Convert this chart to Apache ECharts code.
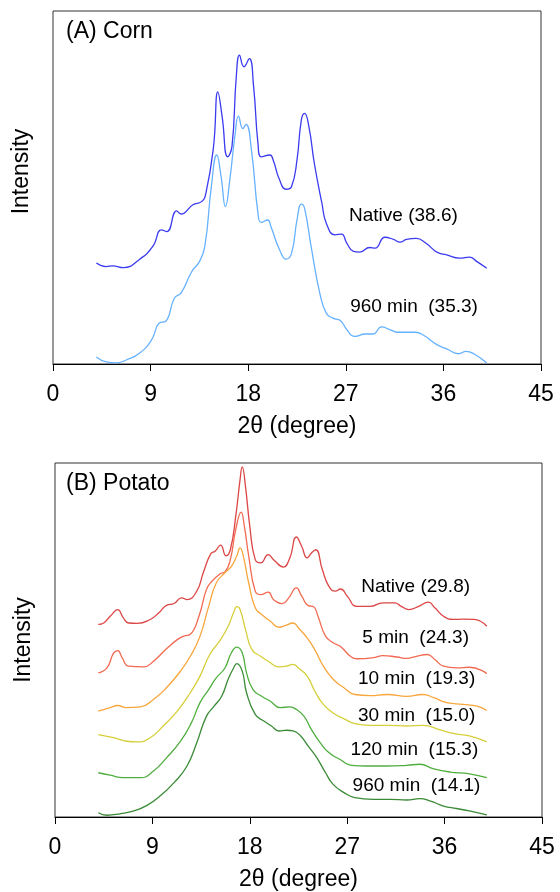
<!DOCTYPE html>
<html>
<head>
<meta charset="utf-8">
<script src="https://cdn.jsdelivr.net/npm/echarts@6/dist/echarts.min.js"></script>
<style>
  html, body { margin: 0; padding: 0; background: #fff; }
  #chart { width: 560px; height: 892px; }
</style>
</head>
<body>
<div id="chart"></div>
<script>
// 2θ ticks
const xTicks = [0, 9, 18, 27, 36, 45];

// (A) Corn: [2θ, intensity (a.u.)]
const cornNative = [
  [4.0, 28.6], [4.9, 27.6], [5.5, 27.8], [6.5, 27.3], [8.0, 29.7], [9.2, 33.3], [10.0, 38.0], [10.5, 37.5],
  [11.4, 43.4], [11.8, 42.5], [12.9, 45.1], [13.7, 46.0], [14.1, 48.4], [14.8, 61.5], [15.2, 77.1], [15.6, 70.0],
  [16.1, 58.7], [16.5, 61.5], [16.9, 81.3], [17.2, 87.5], [17.6, 84.2], [18.1, 86.5], [18.5, 78.5], [18.9, 62.5],
  [19.2, 58.7], [20.0, 59.2], [20.3, 57.8], [20.9, 52.1], [21.5, 49.5], [22.0, 50.3], [22.5, 57.8], [22.9, 69.1],
  [23.2, 71.0], [23.6, 67.2], [24.1, 56.8], [24.8, 45.5], [25.2, 39.9], [26.0, 36.6], [26.6, 36.8], [27.1, 34.2],
  [27.7, 31.9], [28.3, 31.7], [29.2, 33.0], [29.7, 32.8], [30.6, 35.9], [31.4, 35.3], [32.0, 34.5], [32.6, 35.3],
  [33.5, 35.6], [34.4, 34.2], [35.4, 31.7], [36.3, 30.9], [37.5, 30.0], [38.4, 30.3], [39.1, 29.0], [40.0, 27.1]
];
const corn960 = [
  [4.0, 2.0], [4.9, 0.6], [5.8, 0.3], [6.8, 1.2], [8.0, 3.1], [9.1, 6.9], [9.8, 11.6], [10.4, 12.1],
  [11.2, 18.7], [11.8, 20.1], [12.8, 26.2], [13.5, 29.0], [14.0, 33.3], [14.6, 50.2], [15.1, 59.2], [15.5, 53.1],
  [15.9, 44.6], [16.3, 52.1], [16.8, 65.3], [17.1, 70.2], [17.5, 66.7], [17.8, 67.9], [18.3, 60.6], [18.9, 42.7],
  [19.2, 40.1], [19.8, 40.8], [20.1, 38.9], [20.9, 32.3], [21.5, 29.7], [22.0, 31.4], [22.5, 40.8], [22.9, 45.3],
  [23.2, 44.1], [23.8, 33.3], [24.6, 20.1], [25.2, 14.4], [25.8, 13.0], [26.5, 12.3], [27.1, 9.7], [27.8, 7.8],
  [28.8, 8.5], [29.5, 8.5], [30.3, 10.5], [31.1, 9.7], [31.8, 9.0], [33.4, 9.0], [34.1, 8.3], [35.4, 5.5],
  [36.3, 4.3], [37.4, 2.9], [38.1, 3.6], [38.8, 2.9], [40.0, 0.3]
];

// (B) Potato
const potatoNative = [
  [4.0, 54.4], [4.5, 54.8], [5.1, 56.7], [5.8, 58.6], [6.3, 56.3], [6.8, 54.8], [7.6, 54.7], [8.8, 55.8],
  [9.6, 57.7], [10.3, 59.8], [11.0, 60.3], [11.7, 61.9], [12.2, 61.4], [13.1, 63.8], [13.7, 69.0], [14.4, 74.4],
  [14.8, 75.1], [15.3, 76.8], [15.8, 73.8], [16.2, 75.5], [16.7, 84.9], [17.1, 95.3], [17.3, 98.9], [17.6, 93.4],
  [18.0, 82.1], [18.5, 72.7], [19.0, 71.8], [19.7, 74.1], [20.2, 72.7], [21.1, 70.6], [21.7, 73.2], [22.3, 79.1],
  [22.8, 76.4], [23.3, 73.2], [23.7, 74.6], [24.1, 75.5], [24.7, 69.9], [25.3, 65.2], [25.9, 63.8], [26.4, 64.4],
  [27.0, 62.4], [27.9, 59.5], [29.1, 59.5], [30.3, 60.5], [31.4, 60.5], [32.0, 59.5], [32.7, 58.6], [33.6, 59.5],
  [34.5, 60.7], [35.1, 59.1], [35.9, 56.7], [36.8, 55.8], [37.7, 55.9], [38.7, 55.8], [39.9, 53.9]
];
const potato5 = [
  [4.0, 40.7], [4.8, 42.1], [5.4, 46.2], [5.8, 47.0], [6.2, 45.0], [6.8, 42.6], [8.2, 42.4], [9.1, 44.0],
  [10.3, 47.5], [11.3, 50.1], [11.9, 51.1], [12.5, 51.6], [13.3, 56.7], [14.0, 64.3], [14.5, 66.6], [15.3, 68.8],
  [15.7, 69.2], [16.2, 72.7], [16.7, 81.2], [17.2, 86.1], [17.5, 82.1], [17.9, 73.7], [18.5, 63.8], [19.0, 62.8],
  [19.7, 63.5], [20.2, 61.4], [21.0, 60.3], [21.6, 61.9], [22.3, 64.7], [22.8, 62.4], [23.4, 59.7], [23.9, 59.4],
  [24.3, 56.7], [25.0, 51.1], [25.7, 49.2], [26.4, 48.1], [27.3, 45.4], [27.9, 44.7], [29.4, 45.0], [30.3, 45.6],
  [31.6, 45.2], [32.5, 44.8], [33.4, 45.4], [34.4, 45.9], [35.1, 44.5], [35.9, 42.6], [37.1, 42.1], [38.3, 42.3],
  [39.9, 40.5]
];
const potato10 = [
  [4.0, 29.9], [5.1, 30.9], [5.8, 31.5], [6.6, 30.9], [7.9, 31.1], [9.1, 33.2], [10.3, 36.5], [11.6, 41.2],
  [12.6, 45.9], [13.4, 51.1], [14.2, 59.5], [14.9, 66.1], [15.7, 69.0], [16.3, 70.8], [16.8, 73.8], [17.1, 76.0],
  [17.4, 73.7], [17.9, 66.1], [18.5, 59.1], [19.1, 57.2], [19.9, 55.3], [20.7, 53.6], [21.3, 54.1], [22.0, 54.8],
  [22.5, 53.4], [23.3, 50.6], [24.0, 47.3], [24.8, 42.6], [25.7, 38.9], [26.7, 36.5], [27.7, 34.6], [29.1, 34.3],
  [30.7, 34.6], [32.5, 34.1], [34.0, 34.6], [35.0, 33.7], [36.2, 32.3], [37.7, 31.8], [39.0, 31.3], [39.9, 30.1]
];
const potato30 = [
  [4.0, 23.3], [5.4, 22.4], [6.6, 21.4], [7.6, 21.2], [8.8, 22.4], [10.0, 25.7], [11.3, 29.9], [12.5, 35.1],
  [13.4, 39.8], [14.3, 45.9], [15.3, 50.1], [16.0, 53.9], [16.5, 57.7], [16.8, 59.4], [17.1, 58.6], [17.6, 53.0],
  [18.2, 47.3], [19.0, 45.4], [19.7, 44.0], [20.7, 42.4], [21.4, 42.6], [22.0, 43.1], [22.5, 42.1], [23.3, 39.8],
  [24.0, 35.6], [24.8, 31.8], [25.7, 29.4], [26.8, 27.6], [27.7, 26.4], [29.1, 25.9], [31.0, 25.9], [32.5, 25.7],
  [34.0, 25.9], [35.6, 24.6], [36.8, 23.6], [38.3, 22.9], [39.9, 21.2]
];
const potato120 = [
  [4.0, 12.5], [5.1, 11.8], [6.3, 11.1], [7.9, 11.1], [9.1, 13.0], [10.3, 16.7], [11.6, 21.4], [12.6, 26.6],
  [13.4, 32.3], [14.2, 36.0], [14.9, 39.3], [15.7, 42.1], [16.3, 46.4], [16.8, 48.0], [17.3, 46.4], [17.7, 40.7],
  [18.3, 36.0], [19.1, 34.1], [19.9, 32.7], [20.8, 30.9], [21.7, 31.1], [22.3, 30.4], [23.0, 28.5], [23.7, 24.7],
  [24.5, 21.0], [25.3, 18.2], [26.3, 16.3], [27.4, 14.6], [28.8, 14.4], [30.7, 14.4], [32.5, 14.6], [33.7, 14.9],
  [35.0, 13.6], [36.5, 12.7], [38.3, 12.2], [39.9, 11.1]
];
const potato960 = [
  [4.0, 1.2], [4.8, 0.5], [6.0, 0.9], [7.3, 1.7], [8.5, 3.3], [9.7, 5.9], [11.0, 9.7], [12.2, 14.4],
  [13.1, 21.0], [14.0, 28.5], [14.7, 31.3], [15.4, 34.1], [16.0, 38.9], [16.5, 42.1], [16.8, 43.3], [17.3, 41.2],
  [17.7, 35.1], [18.5, 29.0], [19.3, 27.1], [20.0, 25.7], [20.7, 24.3], [21.4, 24.5], [22.0, 24.3], [22.7, 22.9],
  [23.4, 20.0], [24.2, 16.7], [25.0, 12.5], [25.7, 9.2], [26.7, 6.9], [27.7, 5.5], [29.4, 5.0], [31.0, 5.0],
  [32.5, 4.8], [33.7, 5.2], [34.7, 4.5], [35.9, 3.1], [37.1, 2.4], [38.3, 1.7], [39.9, 0.6]
];

// curve labels (text, anchor in data coords)
const cornLabels = ["Native (38.6)", "960 min  (35.3)"];
const cornLabelAt = [[27.3, 41.9], [27.4, 16.2]];
const potatoLabels = ["Native (29.8)", "5 min  (24.3)", "10 min  (19.3)", "30 min  (15.0)", "120 min  (15.3)", "960 min  (14.1)"];
const potatoLabelAt = [[28.3, 65.1], [28.4, 50.7], [28.0, 39.1], [28.0, 28.7], [27.3, 19.1], [27.5, 8.7]];

const FONT = "Liberation Sans, Arial, sans-serif";
const chart = echarts.init(document.getElementById("chart"), null, { renderer: "canvas" });

function xAxisFor(idx) {
  return {
    gridIndex: idx,
    type: "value",
    min: xTicks[0],
    max: xTicks[xTicks.length - 1],
    interval: 9,
    name: "2θ (degree)",
    nameLocation: "middle",
    nameGap: 51,
    nameTextStyle: { color: "#000", fontSize: 23, fontFamily: FONT },
    axisLine: { show: true, lineStyle: { color: "#000", width: 1 } },
    axisTick: { show: true, inside: false, length: 7, lineStyle: { color: "#000" } },
    axisLabel: { color: "#000", fontSize: 23, fontFamily: FONT, margin: 19 },
    splitLine: { show: false },
  };
}
function yAxisFor(idx, shift) {
  return {
    gridIndex: idx,
    type: "value",
    min: 0,
    max: 100,
    name: "Intensity",
    nameLocation: "middle",
    nameGap: 20,
    nameTextStyle: { color: "#000", fontSize: 23, fontFamily: FONT, padding: [0, 0, 0, shift] },
    axisLine: { show: false },
    axisTick: { show: false },
    axisLabel: { show: false },
    splitLine: { show: false },
  };
}
function curve(idx, data, color, text, at) {
  return {
    type: "line",
    xAxisIndex: idx,
    yAxisIndex: idx,
    data: data,
    smooth: 0.5,
    showSymbol: false,
    silent: true,
    lineStyle: { color: color, width: 1.3 },
    markPoint: {
      symbol: "circle",
      symbolSize: 0,
      silent: true,
      data: [{
        coord: at,
        label: {
          show: true,
          position: "right",
          distance: 0,
          formatter: text,
          color: "#000",
          fontSize: 19,
          fontFamily: FONT,
        },
      }],
    },
  };
}

const option = {
  backgroundColor: "#fff",
  animation: false,
  title: [
    { text: "(A) Corn", left: 61, top: 15, textStyle: { color: "#000", fontSize: 23, fontWeight: "normal", fontFamily: FONT } },
    { text: "(B) Potato", left: 61, top: 467, textStyle: { color: "#000", fontSize: 23, fontWeight: "normal", fontFamily: FONT } },
  ],
  grid: [
    { left: 53, right: 19, top: 11, height: 353, show: true, borderColor: "#333", borderWidth: 1 },
    { left: 55, right: 18, top: 463, height: 355, show: true, borderColor: "#333", borderWidth: 1 },
  ],
  xAxis: [xAxisFor(0), xAxisFor(1)],
  yAxis: [yAxisFor(0, 32), yAxisFor(1, 0)],
  series: [
    curve(0, cornNative, "#3b3bf0", cornLabels[0], cornLabelAt[0]),
    curve(0, corn960, "#66b2ff", cornLabels[1], cornLabelAt[1]),
    curve(1, potatoNative, "#dc4646", potatoLabels[0], potatoLabelAt[0]),
    curve(1, potato5, "#f26a52", potatoLabels[1], potatoLabelAt[1]),
    curve(1, potato10, "#f8a63c", potatoLabels[2], potatoLabelAt[2]),
    curve(1, potato30, "#d6cf3a", potatoLabels[3], potatoLabelAt[3]),
    curve(1, potato120, "#4fae3e", potatoLabels[4], potatoLabelAt[4]),
    curve(1, potato960, "#3a8a36", potatoLabels[5], potatoLabelAt[5]),
  ],
};
chart.setOption(option);
window.addEventListener("resize", () => chart.resize());
</script>
</body>
</html>
